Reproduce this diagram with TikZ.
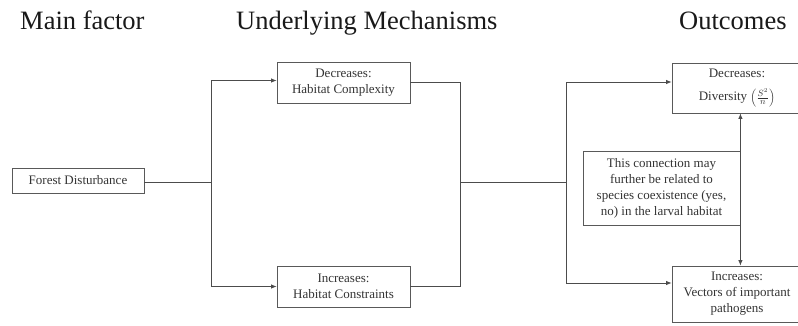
\documentclass[tikz,border=0pt]{standalone}
\usepackage{fontspec}
\setmainfont{Liberation Serif}
\usetikzlibrary{arrows.meta,calc}
\begin{document}
\begin{tikzpicture}[x=1pt,y=-1pt,
  box/.style={draw=black!65, line width=0.8pt, inner sep=0pt, align=center,
    font=\fontsize{13}{16}\selectfont, text=black!80},
  head/.style={anchor=base west, inner sep=0pt, font=\fontsize{26.5}{30}\selectfont, text=black!90},
  conn/.style={draw=black!70, line width=0.8pt},
  arr/.style={conn, -{Latex[length=5.5pt,width=4.5pt]}},
  darr/.style={conn, {Latex[length=5.5pt,width=4.5pt]}-{Latex[length=5.5pt,width=4.5pt]}}]
\useasboundingbox (0,0) rectangle (798,325);
\node[head] (h1) at (20,29) {Main factor};
\node[head] (h2) at (236,29) {Underlying Mechanisms};
\node[head] (h3) at (679,29) {Outcomes};

\node[box, minimum width=132pt, minimum height=25pt] (fd) at (78,180.5) {Forest Disturbance};
\node[box, minimum width=133pt, minimum height=41pt] (tm) at (343.5,82.5) {Decreases:\\Habitat Complexity};
\node[box, minimum width=133pt, minimum height=41pt] (bm) at (343.5,286.5) {Increases:\\Habitat Constraints};
\node[box, minimum width=130pt, minimum height=50pt] (tr) at (737,88) {Decreases:\\[7pt]Diversity $\left(\frac{S^2}{n}\right)$};
\node[box, minimum width=130pt, minimum height=56pt] (br) at (737,294) {Increases:\\Vectors of important\\pathogens};
\node[box, minimum width=157pt, minimum height=74pt] (an) at (661.5,188) {This connection may\\further be related to\\species coexistence (yes,\\no) in the larval habitat};

\coordinate (j1) at (211,182);
\coordinate (j2) at (566,182);
\coordinate (j3) at (460,182);

\draw[conn] (fd.east |- j1) -- (j1);
\draw[arr] (j1) |- ([yshift=2pt]tm.west);
\draw[arr] (j1) |- (bm.west);
\draw[conn] (tm.east) -| (j3);
\draw[conn] (bm.east) -| (j3);
\draw[conn] (j3) -- (j2);
\draw[arr] (j2) |- ([yshift=6pt]tr.west);
\draw[arr] (j2) |- ([yshift=11pt]br.west);
\draw[darr] (an.east |- tr.south) -- (an.east |- br.north);
\end{tikzpicture}
\end{document}
